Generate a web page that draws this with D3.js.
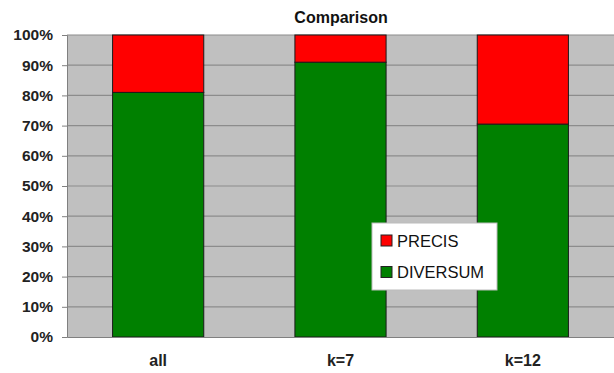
<!DOCTYPE html>
<html><head><meta charset="utf-8">
<script src="https://cdn.jsdelivr.net/npm/d3@7"></script>
<style>body{margin:0;background:#fff}svg{display:block}text{font-family:"Liberation Sans",Arial,sans-serif}</style>
</head><body><svg id="c" width="614" height="373"></svg>
<script>
const categories = ["all", "k=7", "k=12"];
const diversum = [81, 91, 70.5];
const precis = [19, 9, 29.5];
const yTicks = [0,10,20,30,40,50,60,70,80,90,100];
const seriesNames = ["PRECIS", "DIVERSUM"];
const colors = {PRECIS:"#ff0000", DIVERSUM:"#008000"};

const svg = d3.select("#c");
const m = {l:67, r:0, t:35, b:36};
const W = 614, H = 373;
const x = d3.scaleBand().domain(categories).range([m.l, W-m.r]).paddingInner(0.5).paddingOuter(0.25);
const y = d3.scaleLinear().domain([0,100]).range([H-m.b, m.t]);

svg.append("rect").attr("x",m.l).attr("y",m.t).attr("width",W-m.r-m.l).attr("height",H-m.b-m.t).attr("fill","#c0c0c0");
svg.append("g").selectAll("line").data(yTicks.slice(1)).join("line")
  .attr("x1",m.l).attr("x2",W-m.r).attr("y1",d=>y(d)).attr("y2",d=>y(d))
  .attr("stroke","#8c8c8c").attr("stroke-width",1.2);

const data = categories.map((c,i)=>({c, d:diversum[i], p:precis[i]}));
const g = svg.append("g");
g.selectAll(".dv").data(data).join("rect")
  .attr("x",d=>x(d.c)).attr("width",x.bandwidth())
  .attr("y",d=>y(d.d)).attr("height",d=>y(0)-y(d.d))
  .attr("fill",colors.DIVERSUM).attr("stroke","#1a1a1a").attr("stroke-width",1);
g.selectAll(".pr").data(data).join("rect")
  .attr("x",d=>x(d.c)).attr("width",x.bandwidth())
  .attr("y",d=>y(d.d+d.p)).attr("height",d=>y(d.d)-y(d.d+d.p))
  .attr("fill",colors.PRECIS).attr("stroke","#1a1a1a").attr("stroke-width",1);

// axes
const ya = svg.append("g").attr("transform",`translate(${m.l},0)`)
  .call(d3.axisLeft(y).tickValues(yTicks).tickFormat(d=>d+"%").tickSize(5).tickPadding(9));
ya.select(".domain").attr("stroke","#808080");
ya.selectAll(".tick line").attr("stroke","#808080");
ya.selectAll("text").attr("font-size",15.5).attr("font-weight","bold").attr("fill","#222");

const xa = svg.append("g").attr("transform",`translate(0,${y(0)})`)
  .call(d3.axisBottom(x).tickSize(0));
xa.select(".domain").attr("stroke","#808080");
xa.selectAll("text").attr("y",29).attr("dy",0).attr("font-size",16).attr("font-weight","bold").attr("fill","#222");

svg.append("text").attr("x",341).attr("y",23).attr("text-anchor","middle")
  .attr("font-size",16).attr("font-weight","bold").attr("fill","#111").text("Comparison");

// legend
const lg = svg.append("g").attr("transform","translate(372,223)");
lg.append("rect").attr("width",125).attr("height",67).attr("fill","#fff").attr("stroke","#bbb");
lg.selectAll("g").data(seriesNames).join("g")
  .attr("transform",(d,i)=>`translate(9,${17.5+i*31.5})`)
  .each(function(d){
    const s=d3.select(this);
    s.append("rect").attr("x",0).attr("y",-5.5).attr("width",11).attr("height",11).attr("fill",colors[d]).attr("stroke","#222");
    s.append("text").attr("x",16).attr("y",6).attr("font-size",16.5).attr("fill","#111").text(d);
  });
</script></body></html>
